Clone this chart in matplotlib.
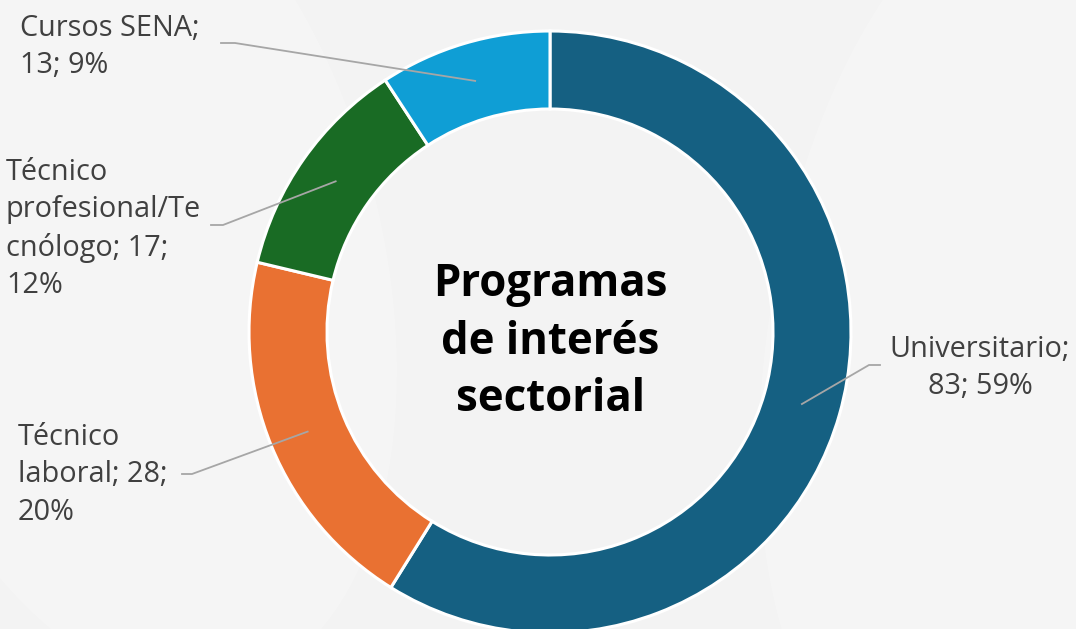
import numpy as np
import matplotlib.pyplot as plt
from matplotlib.patches import Ellipse

# data
categories = ["Universitario", "Técnico laboral", "Técnico profesional/Tecnólogo", "Cursos SENA"]
values = [83, 28, 17, 13]
colors = ["#156082", "#E97132", "#196B24", "#0F9ED5"]
label_texts = ["Universitario;\n83; 59%",
               "Técnico\nlaboral; 28;\n20%",
               "Técnico\nprofesional/Te\ncnólogo; 17;\n12%",
               "Cursos SENA;\n13; 9%"]

W, H = 1076, 629
bg = "#f3f3f3"
FONT = "Open Sans"

fig = plt.figure(figsize=(W / 100, H / 100), dpi=100, facecolor=bg)
ax = fig.add_axes([0, 0, 1, 1])

# faint background swooshes
for (ex_, ey_, w_, h_, a_) in [(120, 250, 520, 900, 15), (980, 330, 420, 900, -10)]:
    ax.add_patch(Ellipse((ex_, H - ey_), w_, h_, angle=a_, color="white", alpha=0.22, lw=0, zorder=0))

cx, cy, R, width = 550, H - 332, 301, 78
wedges, _ = ax.pie(values, colors=colors, startangle=90, counterclock=False,
                   center=(cx, cy), radius=R, frame=True,
                   wedgeprops=dict(width=width, edgecolor="white", linewidth=2.2))
ax.set_xlim(0, W)
ax.set_ylim(0, H)
ax.set_aspect("equal")
ax.axis("off")

# label layout (pixel coords from top-left): text anchor, alignment, elbow, line end
layout = [
    dict(tx=980, ty=368, ha="center", elbow=(869, 365), end=(880, 365)),
    dict(tx=18, ty=475, ha="left", elbow=(192, 474), end=(182, 474)),
    dict(tx=6, ty=229, ha="left", elbow=(223, 225), end=(211, 225)),
    dict(tx=20, ty=47, ha="left", elbow=(235, 43), end=(221, 43)),
]

rmid = R - width / 2
for w, txt, lay in zip(wedges, label_texts, layout):
    ang = np.deg2rad((w.theta1 + w.theta2) / 2)
    px, py = cx + rmid * np.cos(ang), cy + rmid * np.sin(ang)
    ex, ey = lay["elbow"]
    sx, sy = lay["end"]
    ax.plot([px, ex, sx], [py, H - ey, H - sy], color="#a6a6a6", lw=1.3, zorder=5)
    ax.text(lay["tx"], H - lay["ty"], txt, ha=lay["ha"], va="center",
            fontsize=20.8, color="#404040", family=FONT, linespacing=1.38, zorder=6)

ax.text(cx, H - 342, "Programas\nde interés\nsectorial", ha="center", va="center",
        fontsize=31.5, fontweight="bold", color="black", family=FONT, linespacing=1.38)

fig.savefig("out.png", dpi=100, facecolor=bg)
